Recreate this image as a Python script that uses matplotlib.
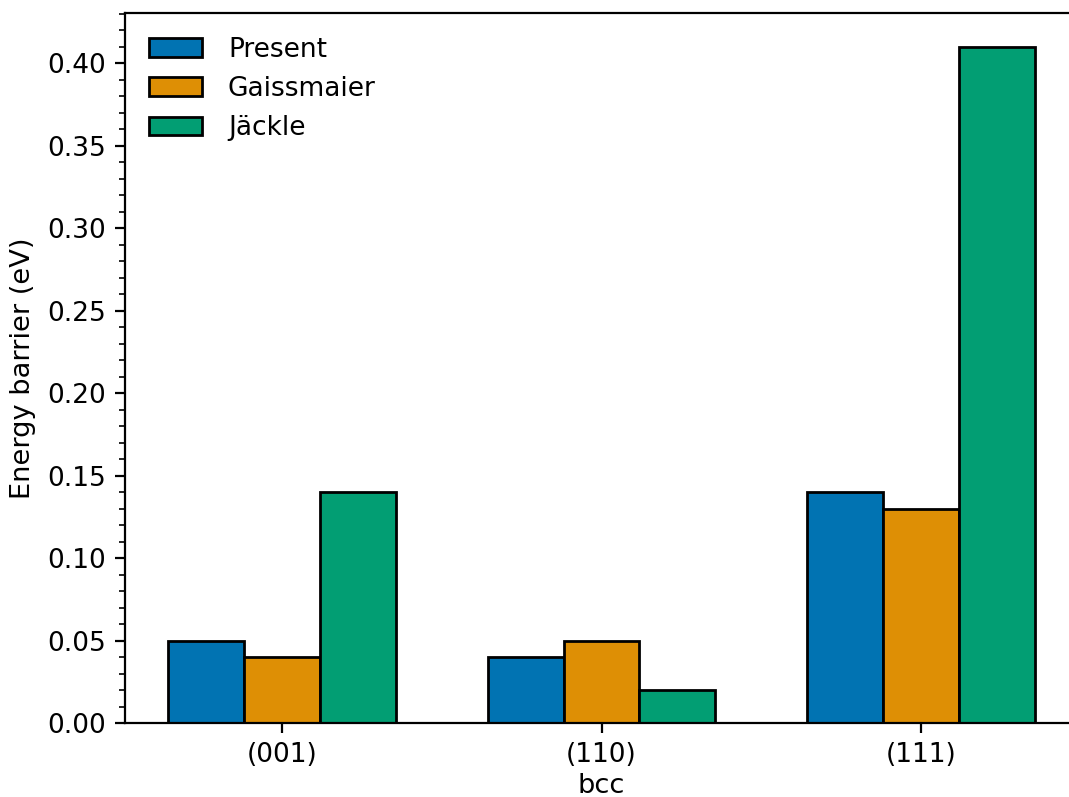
import numpy as np
import matplotlib
matplotlib.use("Agg")
import matplotlib.pyplot as plt
from matplotlib.ticker import MultipleLocator, FormatStrFormatter

# Surface orientations and energy barriers (eV) from each source
categories = ["(001)", "(110)", "(111)"]
present = [0.05, 0.04, 0.14]
gaissmaier = [0.04, 0.05, 0.13]
jackle = [0.14, 0.02, 0.41]
series_names = ["Present", "Gaissmaier", "Jäckle"]
colors = ["#0173b2", "#de8f05", "#029e73"]

plt.rcParams["font.family"] = ["DejaVu Sans"]
plt.rcParams["font.size"] = 9.5

fig = plt.figure(figsize=(1069 / 200, 797 / 200), dpi=200)
ax = fig.add_axes([125 / 1069, 1 - 723 / 797, (1078 - 125) / 1069, (723 - 13) / 797])

x = np.arange(len(categories))
width = 0.238
for i, (vals, name, c) in enumerate(zip([present, gaissmaier, jackle], series_names, colors)):
    ax.bar(x + (i - 1) * width, vals, width, color=c, edgecolor="black",
           linewidth=1.0, label=name)

ax.set_xticks(x)
ax.set_xticklabels(categories)
ax.set_xlabel("bcc", fontsize=9.8, labelpad=1.5)
ax.set_ylabel("Energy barrier (eV)", fontsize=9.8, labelpad=4)
ax.yaxis.set_major_locator(MultipleLocator(0.05))
ax.yaxis.set_minor_locator(MultipleLocator(0.01))
ax.yaxis.set_major_formatter(FormatStrFormatter("%.2f"))
ax.margins(x=0.05, y=0.05)
ax.set_ylim(0, 0.41 * 1.05)
ax.legend(loc="upper left", frameon=False, handletextpad=1.0)

fig.savefig("out.png", dpi=200)
